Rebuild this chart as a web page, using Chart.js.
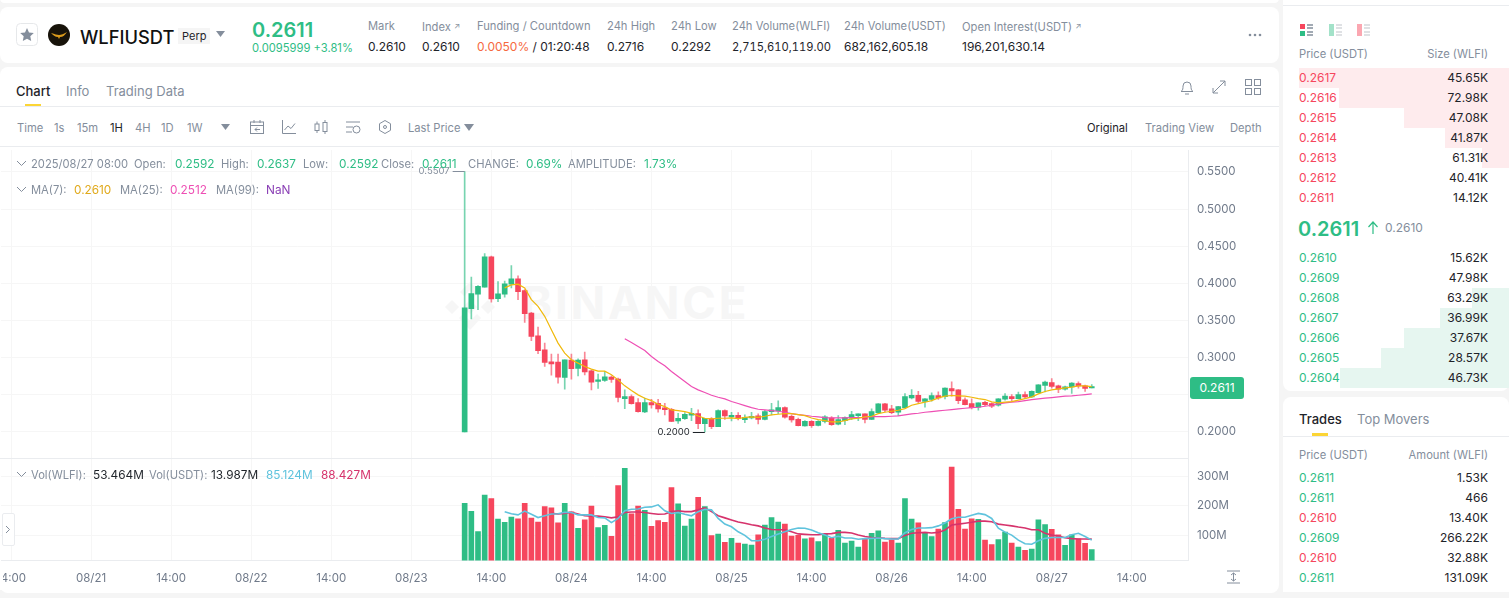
<!DOCTYPE html>
<html>
<head>
<meta charset="utf-8">
<title>WLFIUSDT Perp</title>
<script src="https://cdn.jsdelivr.net/npm/chart.js"></script>
<style>
  html, body { margin: 0; padding: 0; width: 1509px; height: 598px; overflow: hidden; background: #f5f5f5; font-family: Inter, sans-serif; font-size: 12px; color: #1e2329; }
  .panel { position: absolute; background: #fff; border-radius: 8px; }
  .t { position: absolute; white-space: nowrap; line-height: 16px; height: 16px; transform: translateY(-8px); }
  .g { color: #848e9c; }
  .up { color: #2ebd85; }
  .dn { color: #f6465d; }
  .r { text-align: right; }
  .s { font-size: 11.2px; }
  .v { font-size: 11.8px; }
  .arrow { font-size: 8px; vertical-align: 2px; }
  .line { position: absolute; background: #eaecef; }
  .bar { position: absolute; }
  svg { position: absolute; }
  canvas { position: absolute; }
  #watermark { position: absolute; left: 522px; top: 273px; font-size: 45.5px; line-height: 60px; font-weight: 700; letter-spacing: 2.8px; color: #f6f6f6; }
</style>
</head>
<body>
<div class="panel" style="left:0;top:-6px;width:1279px;height:9px"></div>
<div class="panel" style="left:0;top:7px;width:1279px;height:56px"></div>
<div class="panel" style="left:0;top:67px;width:1279px;height:526px"></div>
<div class="panel" style="left:1283px;top:-8px;width:226px;height:399px"></div>
<div class="panel" style="left:1283px;top:397px;width:226px;height:196px;overflow:hidden"></div>

<!-- header -->
<svg style="left:16px;top:23px" width="24" height="24" viewBox="0 0 24 24"><rect x="0.5" y="0.5" width="21" height="22" rx="4" fill="#fff" stroke="#e6e8ea"/><path d="M11 5l2 4.400 4.800.6-3.500 3.300.9 4.800L11 15.700 6.800 18.100l.9-4.800L4.200 10l4.800-.6z" fill="#848e9c"/></svg>
<svg style="left:48px;top:24px" width="22" height="22" viewBox="0 0 22 22"><circle cx="11" cy="11" r="11" fill="#17130a"/><path d="M3 9c4 1 6 2 8 2s5-1 8-3c-2 3-4 5-7 5l-1 2-1-2c-3 0-5-2-7-4z" fill="#d99a1c"/></svg>
<div class="t" style="left:80px;top:37px;font-size:18.300px;font-weight:500;color:#111">WLFIUSDT</div>
<div class="t" style="left:178px;top:36px;font-size:11px;background:#f5f5f5;padding:0 4px">Perp</div>
<svg style="left:216px;top:31px" width="9" height="6"><path d="M0 0h9L4.500 6z" fill="#848e9c"/></svg>
<div class="t up" style="left:252px;top:30px;font-size:20px;font-weight:600">0.2611</div>
<div class="t up" style="left:252px;top:48px;font-size:11.2px">0.0095999 +3.81%</div>
<div class="t g s" style="left:368px;top:26px">Mark</div>
<div class="t" style="left:368px;top:47px">0.2610</div>
<div class="t g s" style="left:422px;top:26px">Index <span class="arrow">↗</span></div>
<div class="t" style="left:422px;top:47px">0.2610</div>
<div class="t g s" style="left:477px;top:26px">Funding / Countdown</div>
<div class="t" style="left:477px;top:47px"><span style="color:#f6693e">0.0050%</span> / 01:20:48</div>
<div class="t g s" style="left:607px;top:26px">24h High</div>
<div class="t" style="left:607px;top:47px">0.2716</div>
<div class="t g s" style="left:671px;top:26px">24h Low</div>
<div class="t" style="left:671px;top:47px">0.2292</div>
<div class="t g s" style="left:732px;top:26px">24h Volume(WLFI)</div>
<div class="t" style="left:732px;top:47px;font-size:11.2px;font-variant-numeric:tabular-nums">2,715,610,119.00</div>
<div class="t g s" style="left:844px;top:26px">24h Volume(USDT)</div>
<div class="t" style="left:844px;top:47px">682,162,605.18</div>
<div class="t g s" style="left:962px;top:26px">Open Interest(USDT) <span class="arrow">↗</span></div>
<div class="t" style="left:962px;top:47px">196,201,630.14</div>
<svg style="left:1248px;top:33px" width="14" height="4"><circle cx="2" cy="2" r="1.300" fill="#848e9c"/><circle cx="7" cy="2" r="1.300" fill="#848e9c"/><circle cx="12" cy="2" r="1.300" fill="#848e9c"/></svg>

<!-- tabs -->
<div class="t" style="left:16px;top:91px;font-size:13px;font-weight:500">Chart</div>
<div class="t g" style="left:66px;top:91px;font-size:13px">Info</div>
<div class="t g" style="left:106px;top:91px;font-size:13px">Trading Data</div>
<div class="bar" style="left:25px;top:104px;width:16px;height:3px;background:#fcd535"></div>
<div class="line" style="left:0;top:106px;width:1279px;height:1px"></div>
<svg style="left:1179px;top:79px" width="16" height="16" fill="none" stroke="#848e9c"><path d="M2 12.500c2-1 2-3.500 2-5.500a4 4 0 018 0c0 2 0 4.500 2 5.500zM6 15h4"/></svg>
<svg style="left:1211px;top:79px" width="16" height="16" fill="none" stroke="#848e9c"><path d="M2 14l12-12M9 2h5v5M2 9v5h5"/></svg>
<svg style="left:1244px;top:78px" width="18" height="18" fill="none" stroke="#848e9c"><rect x="1.500" y="1.500" width="6" height="6"/><rect x="10.500" y="1.500" width="6" height="6"/><rect x="1.500" y="10.500" width="6" height="6"/><rect x="10.500" y="10.500" width="6" height="6"/></svg>

<!-- toolbar -->
<div class="t g s" style="left:17px;top:128px">Time</div>
<div class="t g s" style="left:54px;top:128px">1s</div>
<div class="t g s" style="left:77px;top:128px">15m</div>
<div class="t s" style="left:110px;top:128px">1H</div>
<div class="t g s" style="left:135px;top:128px">4H</div>
<div class="t g s" style="left:161px;top:128px">1D</div>
<div class="t g s" style="left:187px;top:128px">1W</div>
<svg style="left:221px;top:124px" width="9" height="6"><path d="M0 0h9L4.500 6z" fill="#848e9c"/></svg>
<svg style="left:249px;top:119px" width="16" height="16" fill="none" stroke="#848e9c"><rect x="1.500" y="3" width="13" height="11.500"/><path d="M1.500 6.500h13M5 1v3M11 1v3M11 10.500H6M8 8.500l-2 2 2 2"/></svg>
<svg style="left:281px;top:119px" width="16" height="16" fill="none" stroke="#848e9c"><path d="M1.500 1v13.500H15M3.500 11l3.500-4 3 2.500 4-5"/></svg>
<svg style="left:313px;top:119px" width="16" height="16" fill="none" stroke="#848e9c"><rect x="2" y="5" width="4" height="6.500"/><rect x="10" y="3.500" width="4" height="9"/><path d="M4 2.500V5M4 11.500V14M12 1v2.500M12 12.500V15"/></svg>
<svg style="left:345px;top:119px" width="16" height="16" fill="none" stroke="#848e9c"><path d="M1 3h14M1 8h7M1 13h6"/><circle cx="11.500" cy="10.500" r="3.500"/></svg>
<svg style="left:377px;top:119px" width="16" height="16" fill="none" stroke="#848e9c"><path d="M8 1.500l5.500 3.200v6.600L8 14.500l-5.500-3.200V4.700z"/><circle cx="8" cy="8" r="1.500"/></svg>
<div class="t g s" style="left:408px;top:128px">Last Price</div>
<svg style="left:464px;top:124px" width="10" height="7"><path d="M0 0h10L5 7z" fill="#848e9c"/></svg>
<div class="t s" style="left:1087px;top:128px">Original</div>
<div class="t g s" style="left:1145px;top:128px">Trading View</div>
<div class="t g s" style="left:1230px;top:128px">Depth</div>
<div class="line" style="left:0;top:146px;width:1279px;height:1px"></div>

<!-- chart -->
<div id="watermark">BINANCE</div>
<svg style="left:443px;top:280px" width="54" height="54" viewBox="0 0 54 54" fill="#f6f6f6"><path d="M27 2l10 10-4 4-6-6-6 6-4-4zM9 20l7 7-7 7-7-7zM45 20l7 7-7 7-7-7zM27 20l7 7-7 7-7-7zM16 38l4-4 7 7 7-7 4 4-11 12z"/></svg>
<canvas id="priceChart" width="1279" height="308" style="left:1px;top:150px"></canvas>
<canvas id="volumeChart" width="1279" height="130" style="left:1px;top:458px"></canvas>
<div class="bar" style="left:0;top:562px;width:3px;height:28px;background:#fff"></div>
<div class="line" style="left:0;top:458px;width:1189px;height:1px"></div>

<!-- legends over chart -->
<svg style="left:16px;top:160px" width="11" height="7" fill="none" stroke="#848e9c"><path d="M1 1l4.500 4.500L10 1"/></svg>
<div class="t g s" style="left:31px;top:164px">2025/08/27 08:00</div>
<div class="t g s" style="left:134px;top:164px">Open:</div>
<div class="t up v" style="left:175px;top:164px">0.2592</div>
<div class="t g s" style="left:221px;top:164px">High:</div>
<div class="t up v" style="left:257px;top:164px">0.2637</div>
<div class="t g s" style="left:303px;top:164px">Low:</div>
<div class="t up v" style="left:339px;top:164px">0.2592</div>
<div class="t g s" style="left:381px;top:164px">Close:</div>
<div class="t up v" style="left:422px;top:164px">0.2611</div>
<div class="t g s" style="left:468px;top:164px">CHANGE:</div>
<div class="t up v" style="left:526px;top:164px">0.69%</div>
<div class="t g s" style="left:568px;top:164px">AMPLITUDE:</div>
<div class="t up v" style="left:644px;top:164px">1.73%</div>
<svg style="left:16px;top:186px" width="11" height="7" fill="none" stroke="#848e9c"><path d="M1 1l4.500 4.500L10 1"/></svg>
<div class="t g s" style="left:31px;top:190px">MA(7):</div>
<div class="t v" style="left:74px;top:190px;color:#e0a91b">0.2610</div>
<div class="t g s" style="left:120px;top:190px">MA(25):</div>
<div class="t v" style="left:170px;top:190px;color:#ee4fb4">0.2512</div>
<div class="t g s" style="left:216px;top:190px">MA(99):</div>
<div class="t v" style="left:266px;top:190px;color:#8a3fb5">NaN</div>
<svg style="left:16px;top:471px" width="11" height="7" fill="none" stroke="#848e9c"><path d="M1 1l4.500 4.500L10 1"/></svg>
<div class="t g s" style="left:31px;top:475px">Vol(WLFI):</div>
<div class="t v" style="left:93px;top:475px">53.464M</div>
<div class="t g s" style="left:149px;top:475px">Vol(USDT):</div>
<div class="t v" style="left:211px;top:475px">13.987M</div>
<div class="t v" style="left:266px;top:475px;color:#5fc3dd">85.124M</div>
<div class="t v" style="left:321px;top:475px;color:#d6336c">88.427M</div>
<div class="t" style="left:1190px;top:388px;width:54px;height:22px;line-height:22px;transform:translateY(-11px);background:#2ebd85;border-radius:3px;color:#fff;text-align:center">0.2611</div>
<div style="position:absolute;left:2px;top:513px;width:11px;height:31px;background:#fff;border:1px solid #eaecef;border-radius:2px"></div>
<svg style="left:5px;top:525px" width="6" height="9" fill="none" stroke="#848e9c"><path d="M1 1l3.500 3.500L1 8"/></svg>
<svg style="left:1226px;top:570px" width="15" height="14" fill="none" stroke="#848e9c"><path d="M1 1h13M1 13h13M7.500 3v8M5 5l2.500-2L10 5M5 9l2.500 2L10 9"/></svg>

<!-- order book -->
<div class="line" style="left:1283px;top:5px;width:226px;height:1px"></div>
<svg style="left:1300px;top:24px" width="13" height="12"><rect width="5" height="5" fill="#f6465d"/><rect y="7" width="5" height="5" fill="#2ebd85"/><path d="M7 1h6M7 4h6M7 8h6M7 11h6" stroke="#848e9c" stroke-width="1.500"/></svg>
<svg style="left:1329px;top:24px" width="13" height="12"><rect width="5" height="12" fill="#a3e2c9"/><path d="M7 1h6M7 4h6M7 8h6M7 11h6" stroke="#d5d8dc" stroke-width="1.500"/></svg>
<svg style="left:1357px;top:24px" width="13" height="12"><rect width="5" height="12" fill="#fba7b1"/><path d="M7 1h6M7 4h6M7 8h6M7 11h6" stroke="#d5d8dc" stroke-width="1.500"/></svg>
<div class="t g s" style="left:1299px;top:54px">Price (USDT)</div>
<div class="t g s r" style="right:21px;top:54px">Size (WLFI)</div>

<div class="bar" style="left:1299px;top:68px;width:210px;height:20px;background:#feebed"></div>
<div class="bar" style="left:1339px;top:88px;width:170px;height:20px;background:#feebed"></div>
<div class="bar" style="left:1404px;top:108px;width:105px;height:20px;background:#feebed"></div>
<div class="bar" style="left:1445px;top:128px;width:64px;height:20px;background:#feebed"></div>
<div class="bar" style="left:1482px;top:148px;width:27px;height:20px;background:#feebed"></div>
<div class="t dn" style="left:1299px;top:78px">0.2617</div><div class="t r" style="right:21px;top:78px">45.65K</div>
<div class="t dn" style="left:1299px;top:98px">0.2616</div><div class="t r" style="right:21px;top:98px">72.98K</div>
<div class="t dn" style="left:1299px;top:118px">0.2615</div><div class="t r" style="right:21px;top:118px">47.08K</div>
<div class="t dn" style="left:1299px;top:138px">0.2614</div><div class="t r" style="right:21px;top:138px">41.87K</div>
<div class="t dn" style="left:1299px;top:158px">0.2613</div><div class="t r" style="right:21px;top:158px">61.31K</div>
<div class="t dn" style="left:1299px;top:178px">0.2612</div><div class="t r" style="right:21px;top:178px">40.41K</div>
<div class="t dn" style="left:1299px;top:198px">0.2611</div><div class="t r" style="right:21px;top:198px">14.12K</div>

<div class="t up" style="left:1298px;top:229px;font-size:20px;font-weight:600">0.2611</div>
<svg style="left:1367px;top:221px" width="12" height="14" fill="none" stroke="#2ebd85" stroke-width="1.200"><path d="M6 13V1M1.500 6L6 1l4.500 5"/></svg>
<div class="t g" style="left:1385px;top:228px">0.2610</div>

<div class="bar" style="left:1472px;top:288px;width:37px;height:20px;background:#e6f6f0"></div>
<div class="bar" style="left:1440px;top:308px;width:69px;height:20px;background:#e6f6f0"></div>
<div class="bar" style="left:1404px;top:328px;width:105px;height:20px;background:#e6f6f0"></div>
<div class="bar" style="left:1381px;top:348px;width:128px;height:20px;background:#e6f6f0"></div>
<div class="bar" style="left:1340px;top:368px;width:169px;height:20px;background:#e6f6f0"></div>
<div class="t up" style="left:1299px;top:258px">0.2610</div><div class="t r" style="right:21px;top:258px">15.62K</div>
<div class="t up" style="left:1299px;top:278px">0.2609</div><div class="t r" style="right:21px;top:278px">47.98K</div>
<div class="t up" style="left:1299px;top:298px">0.2608</div><div class="t r" style="right:21px;top:298px">63.29K</div>
<div class="t up" style="left:1299px;top:318px">0.2607</div><div class="t r" style="right:21px;top:318px">36.99K</div>
<div class="t up" style="left:1299px;top:338px">0.2606</div><div class="t r" style="right:21px;top:338px">37.67K</div>
<div class="t up" style="left:1299px;top:358px">0.2605</div><div class="t r" style="right:21px;top:358px">28.57K</div>
<div class="t up" style="left:1299px;top:378px">0.2604</div><div class="t r" style="right:21px;top:378px">46.73K</div>

<!-- trades -->
<div class="t" style="left:1299px;top:419px;font-size:13px;font-weight:500">Trades</div>
<div class="t g" style="left:1357px;top:419px;font-size:13px">Top Movers</div>
<div class="bar" style="left:1312px;top:433px;width:16px;height:3px;background:#fcd535"></div>
<div class="line" style="left:1283px;top:436px;width:226px;height:1px"></div>
<div class="t g s" style="left:1299px;top:455px">Price (USDT)</div>
<div class="t g s r" style="right:21px;top:455px">Amount (WLFI)</div>
<div class="t up" style="left:1299px;top:478px">0.2611</div><div class="t r" style="right:21px;top:478px">1.53K</div>
<div class="t up" style="left:1299px;top:498px">0.2611</div><div class="t r" style="right:21px;top:498px">466</div>
<div class="t dn" style="left:1299px;top:518px">0.2610</div><div class="t r" style="right:21px;top:518px">13.40K</div>
<div class="t up" style="left:1299px;top:538px">0.2609</div><div class="t r" style="right:21px;top:538px">266.22K</div>
<div class="t dn" style="left:1299px;top:558px">0.2610</div><div class="t r" style="right:21px;top:558px">32.88K</div>
<div class="t up" style="left:1299px;top:578px">0.2611</div><div class="t r" style="right:21px;top:578px">131.09K</div>
<div class="bar" style="left:1283px;top:582px;width:226px;height:16px;background:linear-gradient(#fff 0,#fff 10px,#f5f5f5 10px)"></div>

<script>
// Chart data
const opens = [
  0.2000,0.3661,0.3854,0.3949,0.4358,0.3796,0.3854,0.3989,0.4061,0.3904,
  0.3602,0.3296,0.3107,0.2945,0.2941,0.2734,0.2968,0.2855,0.2972,0.2824,
  0.2680,0.2693,0.2738,0.2711,0.2450,0.2477,0.2396,0.2270,0.2396,0.2387,
  0.2324,0.2306,0.2149,0.2180,0.2225,0.2248,0.2113,0.2180,0.2072,0.2288,
  0.2203,0.2225,0.2167,0.2189,0.2216,0.2171,0.2275,0.2284,0.2329,0.2212,
  0.2171,0.2081,0.2144,0.2090,0.2144,0.2189,0.2104,0.2153,0.2185,0.2221,
  0.2243,0.2171,0.2261,0.2378,0.2311,0.2266,0.2329,0.2459,0.2495,0.2410,
  0.2437,0.2491,0.2477,0.2585,0.2567,0.2432,0.2383,0.2333,0.2401,0.2383,
  0.2360,0.2441,0.2477,0.2450,0.2504,0.2473,0.2531,0.2626,0.2666,0.2621,
  0.2576,0.2608,0.2653,0.2621,0.2592
];
const closes = [
  0.3670,0.3863,0.3962,0.4358,0.3791,0.3859,0.3994,0.4061,0.3890,0.3593,
  0.3287,0.3094,0.2936,0.2918,0.2738,0.2972,0.2851,0.2968,0.2810,0.2671,
  0.2702,0.2743,0.2707,0.2464,0.2477,0.2383,0.2275,0.2396,0.2365,0.2311,
  0.2302,0.2144,0.2185,0.2239,0.2252,0.2113,0.2185,0.2072,0.2288,0.2216,
  0.2225,0.2185,0.2198,0.2212,0.2171,0.2275,0.2297,0.2329,0.2198,0.2162,
  0.2086,0.2144,0.2086,0.2144,0.2203,0.2099,0.2167,0.2194,0.2234,0.2243,
  0.2171,0.2275,0.2378,0.2293,0.2261,0.2342,0.2477,0.2495,0.2410,0.2446,
  0.2491,0.2459,0.2590,0.2554,0.2423,0.2369,0.2329,0.2392,0.2369,0.2347,
  0.2446,0.2482,0.2450,0.2504,0.2473,0.2549,0.2635,0.2671,0.2612,0.2576,
  0.2608,0.2657,0.2621,0.2585,0.2611
];
const highs = [
  0.5507,0.4084,0.3971,0.4403,0.4367,0.4025,0.4030,0.4241,0.4102,0.3917,
  0.3611,0.3413,0.3197,0.3049,0.3049,0.2972,0.3049,0.2986,0.3076,0.2833,
  0.2779,0.2815,0.2756,0.2725,0.2567,0.2500,0.2450,0.2455,0.2441,0.2441,
  0.2387,0.2320,0.2252,0.2261,0.2320,0.2297,0.2185,0.2194,0.2297,0.2297,
  0.2266,0.2261,0.2230,0.2266,0.2243,0.2293,0.2387,0.2419,0.2338,0.2230,
  0.2189,0.2153,0.2153,0.2153,0.2221,0.2207,0.2221,0.2203,0.2279,0.2243,
  0.2243,0.2311,0.2383,0.2387,0.2360,0.2347,0.2518,0.2572,0.2549,0.2450,
  0.2527,0.2540,0.2594,0.2675,0.2572,0.2459,0.2446,0.2392,0.2414,0.2392,
  0.2450,0.2518,0.2504,0.2536,0.2540,0.2554,0.2639,0.2684,0.2720,0.2630,
  0.2617,0.2666,0.2675,0.2630,0.2637
];
const lows = [
  0.2000,0.3521,0.3647,0.3949,0.3746,0.3755,0.3814,0.3940,0.3782,0.3476,
  0.3229,0.3053,0.2882,0.2765,0.2657,0.2576,0.2711,0.2756,0.2770,0.2567,
  0.2585,0.2680,0.2666,0.2405,0.2315,0.2374,0.2266,0.2261,0.2320,0.2266,
  0.2230,0.2140,0.2117,0.2171,0.2153,0.2045,0.2000,0.2045,0.2072,0.2171,
  0.2149,0.2162,0.2126,0.2176,0.2108,0.2162,0.2230,0.2248,0.2185,0.2131,
  0.2081,0.2077,0.2063,0.2081,0.2122,0.2090,0.2095,0.2099,0.2167,0.2153,
  0.2122,0.2167,0.2257,0.2275,0.2248,0.2221,0.2324,0.2446,0.2392,0.2333,
  0.2414,0.2437,0.2446,0.2482,0.2383,0.2365,0.2311,0.2293,0.2356,0.2329,
  0.2347,0.2428,0.2423,0.2446,0.2450,0.2464,0.2527,0.2540,0.2590,0.2531,
  0.2563,0.2518,0.2590,0.2545,0.2592
];
const ma7 = [
  null,null,null,null,null,null,0.3940,0.3980,0.3989,0.3940,
  0.3782,0.3692,0.3557,0.3377,0.3197,0.3062,0.2972,0.2927,0.2882,0.2846,
  0.2819,0.2819,0.2770,0.2702,0.2621,0.2558,0.2500,0.2455,0.2423,0.2374,
  0.2342,0.2297,0.2288,0.2275,0.2252,0.2216,0.2185,0.2176,0.2185,0.2185,
  0.2189,0.2180,0.2198,0.2203,0.2198,0.2212,0.2230,0.2239,0.2248,0.2248,
  0.2234,0.2221,0.2189,0.2167,0.2153,0.2135,0.2135,0.2153,0.2176,0.2185,
  0.2203,0.2212,0.2248,0.2266,0.2279,0.2293,0.2315,0.2360,0.2383,0.2401,
  0.2423,0.2459,0.2482,0.2491,0.2486,0.2482,0.2468,0.2450,0.2437,0.2405,
  0.2392,0.2401,0.2410,0.2428,0.2450,0.2473,0.2513,0.2545,0.2567,0.2581,
  0.2594,0.2603,0.2621,0.2621,0.2610
];
const ma25 = [
  null,null,null,null,null,null,null,null,null,null,
  null,null,null,null,null,null,null,null,null,null,
  null,null,null,null,0.3256,0.3206,0.3152,0.3098,0.3017,0.2950,
  0.2891,0.2815,0.2747,0.2680,0.2612,0.2567,0.2531,0.2495,0.2468,0.2446,
  0.2410,0.2383,0.2356,0.2329,0.2306,0.2297,0.2288,0.2279,0.2266,0.2248,
  0.2234,0.2225,0.2212,0.2203,0.2194,0.2189,0.2189,0.2189,0.2194,0.2194,
  0.2198,0.2207,0.2207,0.2207,0.2212,0.2216,0.2230,0.2243,0.2252,0.2266,
  0.2275,0.2284,0.2293,0.2302,0.2311,0.2320,0.2329,0.2333,0.2347,0.2360,
  0.2378,0.2392,0.2401,0.2410,0.2423,0.2437,0.2446,0.2455,0.2464,0.2473,
  0.2482,0.2486,0.2495,0.2504,0.2512
];
// Volume in millions of WLFI
const volumes = [
  209,182,113.5,237,224.7,156,145,163,157,209,
  159.5,146,198,194,143,209,180,125,153,200,
  127,135,98,268.5,327,174,200,185,131.5,150.5,
  145,262,207,132.6,156,229,198,100,105.6,77.5,
  91,75,72,68.5,103,136,160.7,146,139,99,
  101,89,93,80,105.6,91,118,75,82,62,
  87.6,108,116,78.6,85.4,75,224.7,156,143,111,
  96.6,122.5,144,331.5,189,122.5,157,155,85.4,69.7,
  86.5,112,75,62,50.6,55,153,137,121,103,
  67.4,103,89,74,53.464
];
const volMaShort = [
  null,null,null,null,null,null,181,174,170,183,
  172,161,167,173,174,179,178,170,170,170,
  161,160,144,158,184,189,190,196,197,204,
  184,175,178,172,167,181,189,187,158,139,
  130,113,101,83,83,88,97,106,113,121,
  126,125,119,110,102,93,98,92,92,88,
  90,91,92,90,89,89,110,121,126,126,
  127,133,143,157,162,162,169,175,171,158,
  125,112,102,85,73,71,83,91,94,94,
  94,103,108,97,85.124
];
const volMaLong = [
  null,null,null,null,null,null,null,null,null,null,
  null,null,null,175,173,175,179,173,167,166,
  166,164,160,164,178,180,180,178,175,172,
  173,181,184,181,181,187,194,181,167,160,
  153,146,142,137,133,126,121,120,120,113,
  106,104.5,103,103,106,107,111,111,109,102,
  97,94,93,91,90,90,101,108,110,111,
  109,111,119,136,139,142,145,149,149,147,
  139,136,133,129,126,120,120,108,102,99,
  93,90,89,89,88.427
];

// Hour slots on the time axis, the first candle sits in slot 69
const slotCount = 178;
const firstCandleSlot = 69;
const tickSlots = [1, 13, 25, 37, 49, 61, 73, 85, 97, 109, 121, 133, 145, 157, 169];
const tickLabels = ['14:00', '08/21', '14:00', '08/22', '14:00', '08/23', '14:00', '08/24', '14:00', '08/25', '14:00', '08/26', '14:00', '08/27', '14:00'];
const priceTicks = [0.20, 0.25, 0.30, 0.35, 0.40, 0.45, 0.50, 0.55];
const volumeTicks = [100, 200, 300];

const GREEN = '#2ebd85';
const RED = '#f6465d';
const GRID = '#f6f6f6';
const AXIS = '#eaecef';
const LABEL = '#707a8a';

const slots = Array.from({ length: slotCount }, (_, i) => i);

// Put a candle-length array on the hour slots
function toSlots(values) {
    const out = new Array(slotCount).fill(null);
    values.forEach((v, i) => { out[firstCandleSlot + i] = v; });
    return out;
}

const candleColors = toSlots(closes.map((c, i) => (c >= opens[i] ? GREEN : RED)));
const wickColors = toSlots(closes.map((c, i) => (c >= opens[i] ? 'rgba(46,189,133,0.65)' : 'rgba(246,70,93,0.65)')));

function xScale(showLabels) {
    return {
        type: 'category',
        offset: true,
        afterBuildTicks: (scale) => { scale.ticks = tickSlots.map(v => ({ value: v })); },
        afterFit: (scale) => {
            scale.paddingLeft = 0;
            scale.paddingRight = 0;
            scale.height = showLabels ? 27.5 : 0;
        },
        grid: { color: GRID, offset: false, drawTicks: false },
        border: { display: showLabels, color: AXIS },
        ticks: {
            display: showLabels,
            autoSkip: false,
            maxRotation: 0,
            padding: 11,
            color: LABEL,
            font: { family: 'Inter', size: 11.5 },
            callback: (value, index) => tickLabels[index]
        }
    };
}

function yScale(min, max, tickValues, format) {
    return {
        position: 'right',
        min: min,
        max: max,
        afterBuildTicks: (scale) => { scale.ticks = tickValues.map(v => ({ value: v })); },
        afterFit: (scale) => {
            scale.width = 91.5;
            scale.paddingTop = 0;
            scale.paddingBottom = 0;
        },
        grid: { color: GRID, drawTicks: false },
        border: { color: AXIS },
        ticks: {
            padding: 8.5,
            color: LABEL,
            font: { family: 'Inter', size: 11.5 },
            callback: format
        }
    };
}

// Small markers for the highest and lowest candle
const extremeLabels = {
    id: 'extremeLabels',
    afterDatasetsDraw(chart) {
        const ctx = chart.ctx;
        const x = chart.scales.x;
        const y = chart.scales.y;
        const marks = [
            { value: Math.max(...highs), list: highs, from: 0, color: '#848e9c', size: 9.5 },
            { value: Math.min(...lows.slice(1)), list: lows, from: 1, color: '#1e2329', size: 9.5 }
        ];
        ctx.save();
        marks.forEach(mark => {
            const index = mark.list.indexOf(mark.value, mark.from);
            const px = x.getPixelForValue(firstCandleSlot + index);
            const py = Math.round(y.getPixelForValue(mark.value)) + 0.5;
            ctx.strokeStyle = mark.color;
            ctx.beginPath();
            ctx.moveTo(px, py);
            ctx.lineTo(px - 12, py);
            ctx.stroke();
            ctx.fillStyle = mark.color;
            ctx.font = mark.size + 'px Inter';
            ctx.textAlign = 'right';
            ctx.textBaseline = 'middle';
            ctx.fillText(mark.value.toFixed(4), px - 15, py);
        });
        ctx.restore();
    }
};

function initPriceChart() {
    const ctx = document.getElementById('priceChart').getContext('2d');
    new Chart(ctx, {
        type: 'bar',
        plugins: [extremeLabels],
        data: {
            labels: slots,
            datasets: [
                { type: 'line', data: toSlots(ma7), borderColor: '#f0b90b', borderWidth: 1.2, pointRadius: 0, order: 1 },
                { type: 'line', data: toSlots(ma25), borderColor: '#ee4fb4', borderWidth: 1.2, pointRadius: 0, order: 1 },
                { data: toSlots(opens.map((o, i) => [o, closes[i]])), backgroundColor: candleColors, barThickness: 5, minBarLength: 1, grouped: false, order: 2 },
                { data: toSlots(lows.map((l, i) => [l, highs[i]])), backgroundColor: wickColors, barThickness: 1, grouped: false, order: 3 }
            ]
        },
        options: {
            responsive: false,
            animation: false,
            events: [],
            layout: { padding: 0 },
            plugins: { legend: { display: false }, tooltip: { enabled: false } },
            scales: {
                x: xScale(false),
                y: yScale(0.165, 0.5796, priceTicks, v => v.toFixed(4))
            }
        }
    });
}

function initVolumeChart() {
    const ctx = document.getElementById('volumeChart').getContext('2d');
    new Chart(ctx, {
        type: 'bar',
        data: {
            labels: slots,
            datasets: [
                { type: 'line', data: toSlots(volMaShort), borderColor: '#5fc3dd', borderWidth: 1.6, pointRadius: 0, order: 1 },
                { type: 'line', data: toSlots(volMaLong), borderColor: '#d6336c', borderWidth: 1.6, pointRadius: 0, order: 1 },
                { data: toSlots(volumes), backgroundColor: candleColors, barThickness: 5, grouped: false, order: 2 }
            ]
        },
        options: {
            responsive: false,
            animation: false,
            events: [],
            layout: { padding: 0 },
            plugins: { legend: { display: false }, tooltip: { enabled: false } },
            scales: {
                x: xScale(true),
                y: yScale(16.4, 361.7, volumeTicks, v => v + 'M')
            }
        }
    });
}

document.addEventListener('DOMContentLoaded', function() {
    initPriceChart();
    initVolumeChart();
});
</script>
</body>
</html>
